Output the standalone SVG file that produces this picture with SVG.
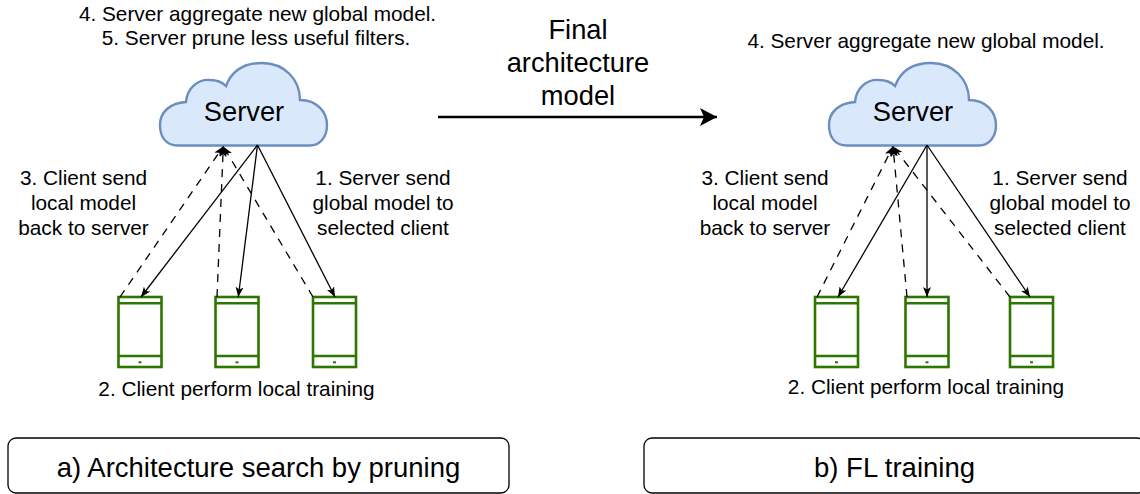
<svg xmlns="http://www.w3.org/2000/svg" width="1140" height="494" viewBox="0 0 1140 494">
<style>
  text { font-family: "Liberation Sans", Arial, sans-serif; fill: #000; }
  .lbl { font-size: 20.8px; text-anchor: middle; }
  .big { font-size: 27.3px; text-anchor: middle; }
  .cloud { fill: #dae8fc; stroke: #6c8ebf; stroke-width: 2.4; }
  .phone { fill: #ffffff; stroke: #2d7600; stroke-width: 2.6; }
  .pline { stroke: #2d7600; stroke-width: 2.6; fill: none; }
  .btn { fill: #2d7600; }
  .solid { stroke: #000; stroke-width: 1.3; fill: none; marker-end: url(#arr); }
  .dash { stroke: #000; stroke-width: 1.3; fill: none; stroke-dasharray: 8 7; marker-end: url(#arr); }
  .box { fill: #fff; stroke: #000; stroke-width: 1.3; }
</style>
<defs>
  <marker id="arr" viewBox="0 0 10 8" refX="10" refY="4" markerWidth="10" markerHeight="8" markerUnits="userSpaceOnUse" orient="auto">
    <path d="M0,0 L10,4 L0,8 L2.5,4 Z" fill="#000"/>
  </marker>
  <marker id="bigarr" viewBox="0 0 17 18" refX="17" refY="9" markerWidth="17" markerHeight="18" markerUnits="userSpaceOnUse" orient="auto">
    <path d="M0,0 L17,9 L0,18 L4,9 Z" fill="#000"/>
  </marker>
  <path id="cloudpath" d="M178,145.5 C165,145.5 160,136 160,125 C160,112 170,103 186,102 C187,88 198,79 210,80 C217,80 223,83 226,86 C232,70 245,63 262,63 C285,63 300,80 300,100 C317,100 327,112 327,125 C327,137 320,145.5 310,145.5 Z"/>
</defs>

<!-- Panel a -->
<g id="text-a-top">
  <text class="lbl" x="257.5" y="21">4. Server aggregate new global model.</text>
  <text class="lbl" x="256" y="45">5. Server prune less useful filters.</text>
</g>
<g id="server-a">
  <use href="#cloudpath" class="cloud"/>
  <text class="big" x="244" y="121">Server</text>
</g>
<g id="client-a1">
  <rect class="phone" x="118.5" y="297" width="43" height="70"/>
  <line class="pline" x1="118.5" y1="303.3" x2="161.5" y2="303.3"/>
  <line class="pline" x1="118.5" y1="356" x2="161.5" y2="356"/>
  <rect class="btn" x="138.5" y="361.3" width="3" height="2"/>
</g>
<g id="client-a2">
  <rect class="phone" x="215.5" y="297" width="43" height="70"/>
  <line class="pline" x1="215.5" y1="303.3" x2="258.5" y2="303.3"/>
  <line class="pline" x1="215.5" y1="356" x2="258.5" y2="356"/>
  <rect class="btn" x="235.5" y="361.3" width="3" height="2"/>
</g>
<g id="client-a3">
  <rect class="phone" x="313" y="297" width="43" height="70"/>
  <line class="pline" x1="313" y1="303.3" x2="356" y2="303.3"/>
  <line class="pline" x1="313" y1="356" x2="356" y2="356"/>
  <rect class="btn" x="333" y="361.3" width="3" height="2"/>
</g>
<g id="labels-a">
  <text class="lbl" x="83.5" y="185">3. Client send</text>
  <text class="lbl" x="83.5" y="210">local model</text>
  <text class="lbl" x="83.5" y="235">back to server</text>
  <text class="lbl" x="383" y="185">1. Server send</text>
  <text class="lbl" x="383" y="210">global model to</text>
  <text class="lbl" x="383" y="235">selected client</text>
  <text class="lbl" x="236.5" y="396">2. Client perform local training</text>
</g>

<!-- Panel b -->
<g id="text-b-top">
  <text class="lbl" x="926" y="48">4. Server aggregate new global model.</text>
</g>
<g id="server-b">
  <use href="#cloudpath" class="cloud" transform="translate(669,0)"/>
  <text class="big" x="913" y="121">Server</text>
</g>
<g id="client-b1">
  <rect class="phone" x="815" y="297" width="43" height="70"/>
  <line class="pline" x1="815" y1="303.3" x2="858" y2="303.3"/>
  <line class="pline" x1="815" y1="356" x2="858" y2="356"/>
  <rect class="btn" x="835" y="361.3" width="3" height="2"/>
</g>
<g id="client-b2">
  <rect class="phone" x="905.5" y="297" width="43" height="70"/>
  <line class="pline" x1="905.5" y1="303.3" x2="948.5" y2="303.3"/>
  <line class="pline" x1="905.5" y1="356" x2="948.5" y2="356"/>
  <rect class="btn" x="925.5" y="361.3" width="3" height="2"/>
</g>
<g id="client-b3">
  <rect class="phone" x="1010" y="297" width="43" height="70"/>
  <line class="pline" x1="1010" y1="303.3" x2="1053" y2="303.3"/>
  <line class="pline" x1="1010" y1="356" x2="1053" y2="356"/>
  <rect class="btn" x="1030" y="361.3" width="3" height="2"/>
</g>
<g id="labels-b">
  <text class="lbl" x="765" y="185">3. Client send</text>
  <text class="lbl" x="765" y="210">local model</text>
  <text class="lbl" x="765" y="235">back to server</text>
  <text class="lbl" x="1060" y="185">1. Server send</text>
  <text class="lbl" x="1060" y="210">global model to</text>
  <text class="lbl" x="1060" y="235">selected client</text>
  <text class="lbl" x="926" y="394">2. Client perform local training</text>
</g>

<!-- Middle -->
<g id="final-label">
  <text class="big" x="578" y="39">Final</text>
  <text class="big" x="578" y="72">architecture</text>
  <text class="big" x="578" y="105">model</text>
</g>

<g id="connectors">
  <line class="solid" x1="257.5" y1="145" x2="141" y2="297"/>
  <line class="solid" x1="257.5" y1="145" x2="238.3" y2="297"/>
  <line class="solid" x1="257.5" y1="145" x2="335" y2="297"/>
  <line class="dash" x1="120" y1="297" x2="223.3" y2="146.5"/>
  <line class="dash" x1="217" y1="297" x2="223.3" y2="146.5"/>
  <line class="dash" x1="313" y1="297" x2="223.3" y2="146.5"/>

  <line class="solid" x1="927" y1="145" x2="838" y2="297"/>
  <line class="solid" x1="927" y1="145" x2="927" y2="297"/>
  <line class="solid" x1="927" y1="145" x2="1030" y2="297"/>
  <line class="dash" x1="817" y1="297" x2="893" y2="146.5"/>
  <line class="dash" x1="907" y1="297" x2="893" y2="146.5"/>
  <line class="dash" x1="1010" y1="297" x2="893" y2="146.5"/>

  <line x1="438" y1="117" x2="717" y2="117" stroke="#000" stroke-width="2.6" marker-end="url(#bigarr)"/>
</g>

<g id="box-a">
  <rect class="box" x="8" y="438" width="501" height="55" rx="8"/>
  <text class="big" x="258.5" y="477" style="font-size:27.5px">a) Architecture search by pruning</text>
</g>
<g id="box-b">
  <rect class="box" x="644" y="438" width="501" height="55" rx="8"/>
  <text class="big" x="894.5" y="477" style="font-size:27.5px">b) FL training</text>
</g>
</svg>
